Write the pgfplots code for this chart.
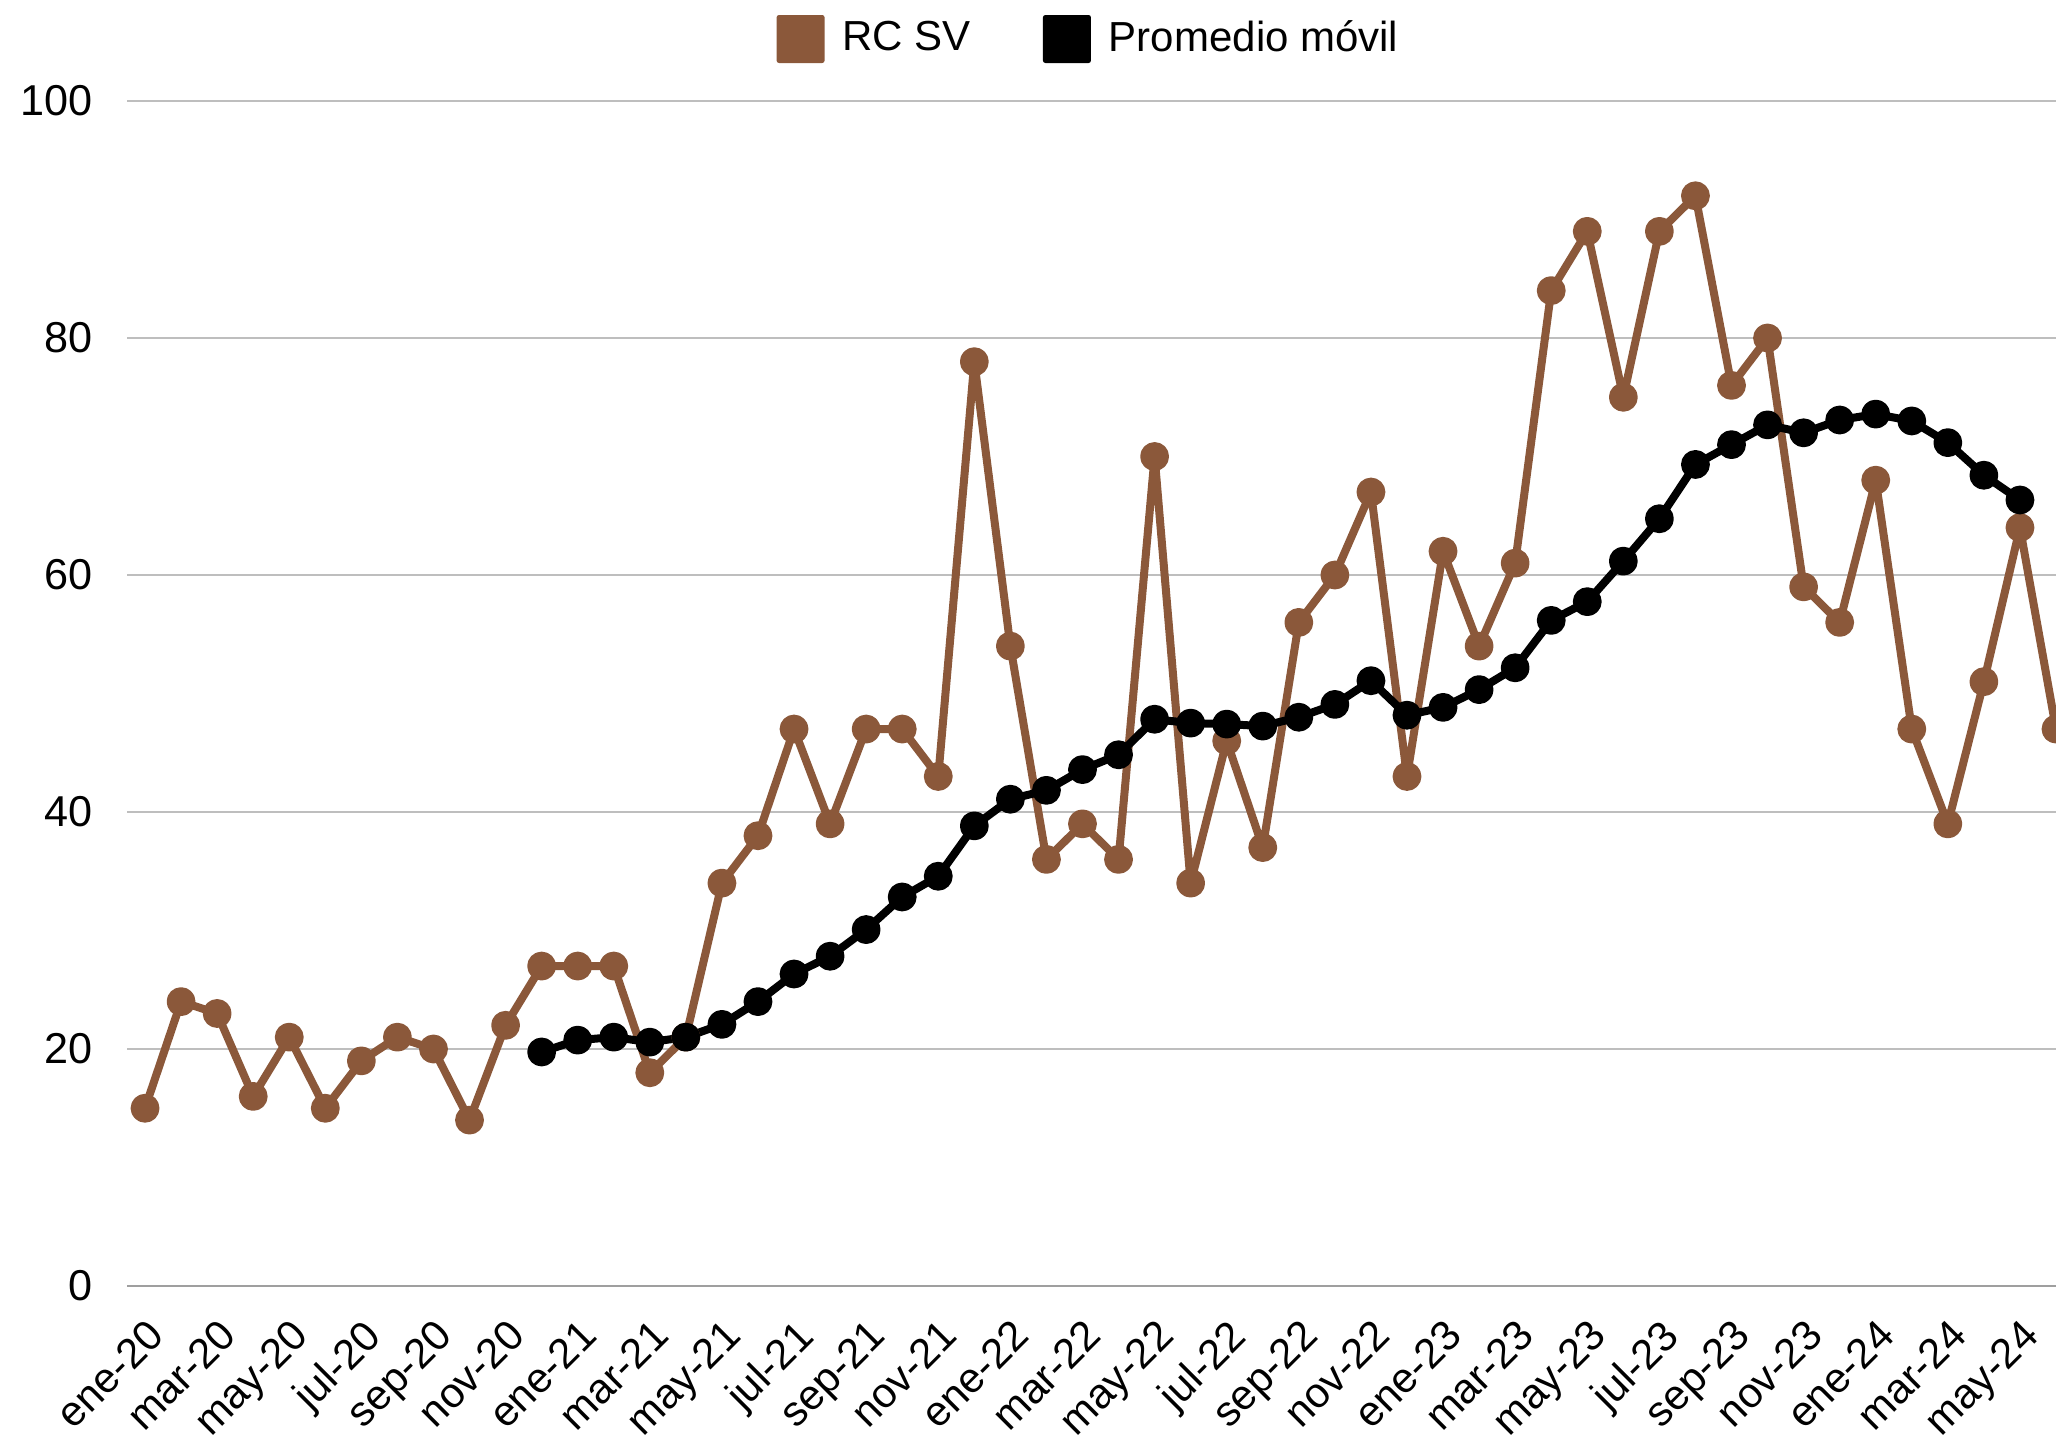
\documentclass[border=0pt]{standalone}
\usepackage{pgfplots}
\pgfplotsset{compat=1.18}
\usepackage{fontspec}
\setmainfont{Liberation Sans}
\definecolor{rcbrown}{RGB}{139,88,58}
\definecolor{gridgray}{RGB}{190,190,190}
\begin{document}
\begin{tikzpicture}
\begin{axis}[
  at={(31.75pt,38.25pt)}, anchor=south west,
  scale only axis, width=482.25pt, height=296.25pt,
  xmin=-0.5, xmax=53, ymin=0, ymax=100,
  axis line style={draw=none},
  tick style={draw=none},
  ytick={0,20,40,60,80,100},
  ymajorgrids, grid style={gridgray, line width=0.5pt},
  xtick={0,2,...,52},
  xticklabels={ene-20,mar-20,may-20,jul-20,sep-20,nov-20,ene-21,mar-21,may-21,jul-21,sep-21,nov-21,ene-22,mar-22,may-22,jul-22,sep-22,nov-22,ene-23,mar-23,may-23,jul-23,sep-23,nov-23,ene-24,mar-24,may-24},
  x tick label style={rotate=45, anchor=north east, font=\fontsize{10.5}{12}\selectfont, xshift=-2pt, yshift=-2.1pt},
  y tick label style={font=\fontsize{10.8}{12}\selectfont, xshift=-5pt},
  /pgf/number format/assume math mode=true,
  clip=false,
  legend columns=2,
  legend style={at={(0.5,1.0)}, anchor=center, yshift=15.5pt, draw=none, fill=none,
    font=\fontsize{10.5}{12}\selectfont,
    /tikz/every even column/.append style={column sep=16pt}},
  legend image code/.code={\fill[#1, draw=none, rounded corners=0.6pt] (0pt,-6pt) rectangle (12pt,6pt); \path[draw=none] (0pt,0pt) -- (14.5pt,0pt);},
]
\draw[gray!75, line width=0.5pt] (axis cs:-0.5,0) -- (axis cs:53,0);
\addplot[rcbrown, line width=2pt, line join=round, mark=*, mark size=2.6pt, mark options={fill=rcbrown, draw=none}] coordinates {
(0,15)(1,24)(2,23)(3,16)(4,21)(5,15)(6,19)(7,21)(8,20)(9,14)(10,22)(11,27)
(12,27)(13,27)(14,18)(15,21)(16,34)(17,38)(18,47)(19,39)(20,47)(21,47)(22,43)(23,78)
(24,54)(25,36)(26,39)(27,36)(28,70)(29,34)(30,46)(31,37)(32,56)(33,60)(34,67)(35,43)
(36,62)(37,54)(38,61)(39,84)(40,89)(41,75)(42,89)(43,92)(44,76)(45,80)(46,59)(47,56)
(48,68)(49,47)(50,39)(51,51)(52,64)(53,47)};
\addlegendentry{RC SV}
\addplot[black, line width=2pt, line join=round, mark=*, mark size=2.6pt, mark options={fill=black, draw=none}] coordinates {
(11,19.75)(12,20.75)(13,21.0)(14,20.58)(15,21.0)(16,22.08)(17,24.0)(18,26.33)(19,27.83)
(20,30.08)(21,32.83)(22,34.58)(23,38.83)(24,41.08)(25,41.83)(26,43.58)(27,44.83)(28,47.83)
(29,47.5)(30,47.42)(31,47.25)(32,48.0)(33,49.08)(34,51.08)(35,48.17)(36,48.83)(37,50.33)
(38,52.17)(39,56.17)(40,57.75)(41,61.17)(42,64.75)(43,69.33)(44,71.0)(45,72.67)(46,72.0)
(47,73.08)(48,73.58)(49,73.0)(50,71.17)(51,68.42)(52,66.33)};
\addlegendentry{Promedio móvil}
\end{axis}
\pgfresetboundingbox
\path[use as bounding box] (0,0) rectangle (514pt,359.75pt);
\end{tikzpicture}
\end{document}
